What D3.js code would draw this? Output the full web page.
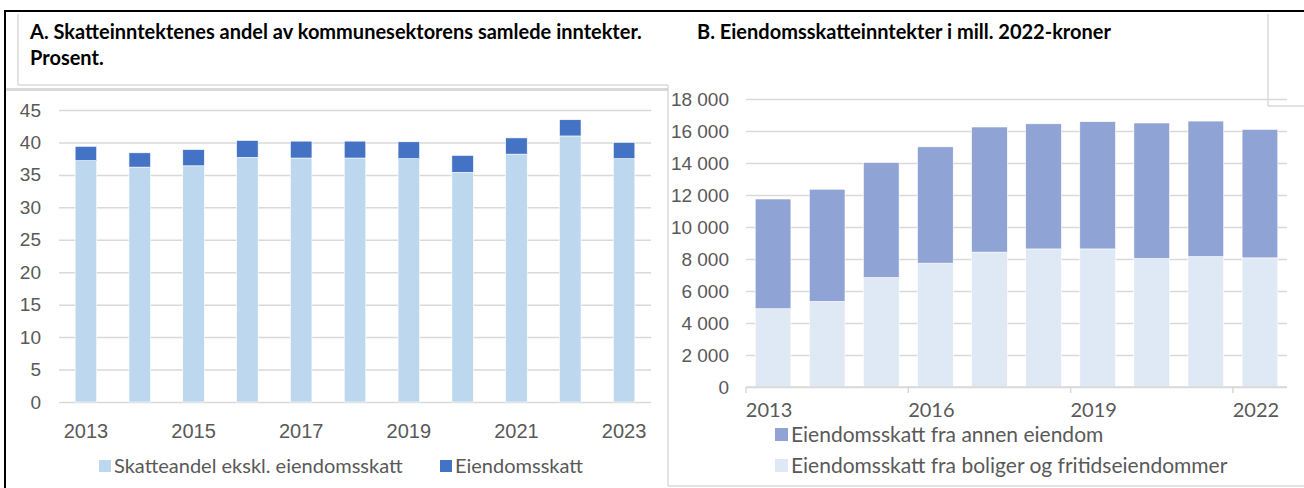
<!DOCTYPE html>
<html>
<head>
<meta charset="utf-8">
<script src="https://cdn.jsdelivr.net/npm/d3@7"></script>
<style>
  body { margin: 0; background: #fff; }
  svg { display: block; font-family: Lato, "Open Sans", sans-serif; }
  .tick text { fill: #595959; }
</style>
</head>
<body>
<div id="chart"></div>
<script>
// Panel A: share of total revenue, percent
const yearsA = [2013, 2014, 2015, 2016, 2017, 2018, 2019, 2020, 2021, 2022, 2023];
const skatteandel = [37.2, 36.2, 36.4, 37.7, 37.6, 37.6, 37.5, 35.4, 38.2, 41.0, 37.5];
const eiendomsskattAndel = [2.2, 2.2, 2.5, 2.6, 2.6, 2.6, 2.6, 2.6, 2.5, 2.5, 2.5];
const ticksA = [0, 5, 10, 15, 20, 25, 30, 35, 40, 45];

// Panel B: property tax, mill. 2022-kroner
const yearsB = [2013, 2014, 2015, 2016, 2017, 2018, 2019, 2020, 2021, 2022];
const boliger = [4890, 5350, 6840, 7740, 8430, 8630, 8630, 8030, 8150, 8070];
const annen = [6860, 7010, 7190, 7270, 7820, 7820, 7950, 8470, 8470, 8030];
const ticksB = [0, 2000, 4000, 6000, 8000, 10000, 12000, 14000, 16000, 18000];

const W = 1304, H = 488;
const svg = d3.select("#chart").append("svg")
    .attr("width", W)
    .attr("height", H);

/* FRAMES */
const frame = svg.append("g").attr("fill", "none");
frame.append("path").attr("d", "M5,488 V11 H1304").attr("stroke", "#000").attr("stroke-width", 2);
frame.append("path").attr("d", "M18,14 V85 H668").attr("stroke", "#c8c8c8");     // title box A
frame.append("path").attr("d", "M6,89.5 H668").attr("stroke", "#d9d9d9").attr("stroke-width", 3);
frame.append("path").attr("d", "M668,85 V486 H1304").attr("stroke", "#c8c8c8");  // panel B
frame.append("path").attr("d", "M1268,14 V106 H1304").attr("stroke", "#c8c8c8"); // title box B

/* TITLES */
const titles = [
    { text: "A. Skatteinntektenes andel av kommunesektorens samlede inntekter.", x: 30, y: 39 },
    { text: "Prosent.", x: 30, y: 65 },
    { text: "B. Eiendomsskatteinntekter i mill. 2022-kroner", x: 697, y: 39 }
];
svg.selectAll("text.title").data(titles).join("text")
    .attr("class", "title")
    .attr("x", d => d.x).attr("y", d => d.y)
    .attr("font-size", 20).attr("font-weight", "bold").attr("fill", "#000")
    .text(d => d.text);

/* PANEL A */
const xA = d3.scaleBand().domain(yearsA).range([59, 651]).paddingInner(0.6).paddingOuter(0.3);
const yA = d3.scaleLinear().domain([0, 45]).range([402, 110]);

const gA = svg.append("g");
gA.append("g")
    .attr("transform", "translate(59,0)")
    .call(d3.axisLeft(yA).tickValues(ticksA).tickSize(-592).tickPadding(18))
    .call(g => g.select(".domain").remove())
    .call(g => g.selectAll(".tick line").attr("stroke", "#d9d9d9").attr("stroke-width", 1.5))
    .call(g => g.selectAll(".tick text").attr("font-size", 19));

const dataA = yearsA.map((y, i) => ({ year: y, base: skatteandel[i], eskatt: eiendomsskattAndel[i] }));
const stackA = d3.stack().keys(["base", "eskatt"])(dataA);
const colorsA = { base: "#bdd7ee", eskatt: "#4472c4" };

gA.selectAll("g.serieA")
    .data(stackA)
    .join("g")
    .attr("class", "serieA")
    .attr("fill", d => colorsA[d.key])
    .selectAll("rect")
    .data(d => d)
    .join("rect")
    .attr("x", d => xA(d.data.year))
    .attr("width", xA.bandwidth())
    .attr("y", d => yA(d[1]))
    .attr("height", d => yA(d[0]) - yA(d[1]))
    .attr("stroke", "#fff")
    .attr("stroke-width", 0.6);

gA.append("g")
    .attr("transform", "translate(0,402)")
    .call(d3.axisBottom(xA).tickValues(yearsA.filter((y, i) => i % 2 == 0)).tickSize(0).tickPadding(22))
    .call(g => g.select(".domain").remove())
    .call(g => g.selectAll(".tick text").attr("font-size", 20));

// legend A
const legA = [
    { label: "Skatteandel ekskl. eiendomsskatt", color: colorsA.base, x: 99 },
    { label: "Eiendomsskatt", color: colorsA.eskatt, x: 440 }
];
const lA = gA.selectAll("g.legA").data(legA).join("g")
    .attr("class", "legA")
    .attr("transform", d => `translate(${d.x},473)`);
lA.append("rect").attr("x", 0).attr("y", -13).attr("width", 12).attr("height", 12).attr("fill", d => d.color);
lA.append("text").attr("x", 15).attr("y", 0).attr("font-size", 20).attr("fill", "#595959").text(d => d.label);

/* PANEL B */
const xB = d3.scaleBand().domain(yearsB).range([746, 1287]).paddingInner(0.34).paddingOuter(0.17);
const yB = d3.scaleLinear().domain([0, 18000]).range([387, 99]);
const fmt = d3.formatLocale({ decimal: ",", thousands: "\u00a0", grouping: [3], currency: ["", " kr"] }).format(",d");

const gB = svg.append("g");
gB.append("g")
    .attr("transform", "translate(746,0)")
    .call(d3.axisLeft(yB).tickValues(ticksB).tickFormat(fmt).tickSize(-541).tickPadding(17))
    .call(g => g.select(".domain").remove())
    .call(g => g.selectAll(".tick line").attr("stroke", "#d9d9d9").attr("stroke-width", 1.5))
    .call(g => g.selectAll(".tick text").attr("font-size", 19));

const dataB = yearsB.map((y, i) => ({ year: y, boliger: boliger[i], annen: annen[i] }));
const stackB = d3.stack().keys(["boliger", "annen"])(dataB);
const colorsB = { boliger: "#dee9f5", annen: "#8fa4d5" };

gB.selectAll("g.serieB")
    .data(stackB)
    .join("g")
    .attr("class", "serieB")
    .attr("fill", d => colorsB[d.key])
    .selectAll("rect")
    .data(d => d)
    .join("rect")
    .attr("x", d => xB(d.data.year))
    .attr("width", xB.bandwidth())
    .attr("y", d => yB(d[1]))
    .attr("height", d => yB(d[0]) - yB(d[1]))
    .attr("stroke", "#fff")
    .attr("stroke-width", 0.6);

// x axis B: tick marks on band boundaries every third year, labels under bars
const tickYears = yearsB.filter((y, i) => i % 3 == 0);
const axB = gB.append("g").attr("transform", "translate(0,387)");
axB.append("line").attr("x1", 746).attr("x2", 1287).attr("stroke", "#d9d9d9").attr("stroke-width", 1.5);
axB.selectAll("line.tk").data(tickYears).join("line")
    .attr("class", "tk")
    .attr("x1", d => xB(d) - xB.step() * xB.paddingInner() / 2)
    .attr("x2", d => xB(d) - xB.step() * xB.paddingInner() / 2)
    .attr("y1", 0).attr("y2", 6)
    .attr("stroke", "#d9d9d9").attr("stroke-width", 1.5);
axB.selectAll("text").data(tickYears).join("text")
    .attr("x", d => xB(d) + xB.bandwidth() / 2 - 4)
    .attr("y", 30)
    .attr("text-anchor", "middle")
    .attr("font-size", 20)
    .attr("fill", "#595959")
    .text(d => d);

// legend B
const legB = [
    { label: "Eiendomsskatt fra annen eiendom", color: colorsB.annen, y: 442 },
    { label: "Eiendomsskatt fra boliger og fritidseiendommer", color: colorsB.boliger, y: 473 }
];
const lB = gB.selectAll("g.legB").data(legB).join("g")
    .attr("class", "legB")
    .attr("transform", d => `translate(775,${d.y})`);
lB.append("rect").attr("x", 0).attr("y", -14).attr("width", 13).attr("height", 13).attr("fill", d => d.color);
lB.append("text").attr("x", 16).attr("y", 0).attr("font-size", 21).attr("fill", "#595959").text(d => d.label);
</script>
</body>
</html>
